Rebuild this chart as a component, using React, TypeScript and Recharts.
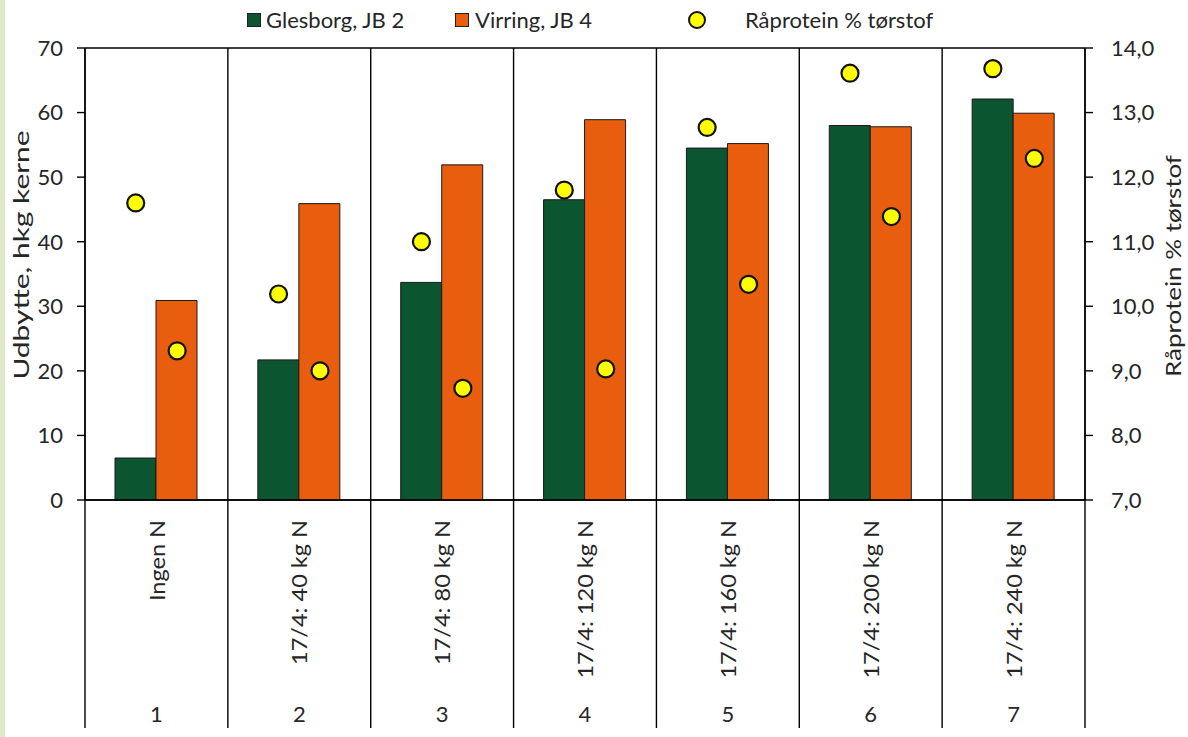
import { ComposedChart, Bar, Scatter, XAxis, YAxis, CartesianGrid } from "recharts";

const categories = [
  "Ingen N",
  "17/4: 40 kg N",
  "17/4: 80 kg N",
  "17/4: 120 kg N",
  "17/4: 160 kg N",
  "17/4: 200 kg N",
  "17/4: 240 kg N",
];
const treatmentNos = ["1", "2", "3", "4", "5", "6", "7"];
const glesborgYield = [6.5, 21.7, 33.7, 46.5, 54.5, 58.0, 62.1];
const virringYield = [30.9, 45.9, 51.9, 58.9, 55.2, 57.8, 59.9];
const glesborgProtein = [11.6, 10.19, 11.0, 11.8, 12.77, 13.61, 13.68];
const virringProtein = [9.31, 9.0, 8.73, 9.03, 10.34, 11.39, 12.29];
const yieldTicks = [0, 10, 20, 30, 40, 50, 60, 70];
const proteinTicks = [7, 8, 9, 10, 11, 12, 13, 14];

const W = 1188;
const H = 737;
const PLOT_LEFT = 85;
const PLOT_RIGHT = 1085;
const PLOT_TOP = 48;
const PLOT_BOTTOM = 500;
const BAND = (PLOT_RIGHT - PLOT_LEFT) / categories.length;
const CAT_GAP = 0.21;
const BAR_W = (BAND * (1 - 2 * CAT_GAP)) / 2;

const GREEN = "#0b5530";
const ORANGE = "#e85d0e";
const YELLOW = "#ffff00";
const FONT = "Lato, 'Open Sans', sans-serif";
const TEXT = "#262626";
const FS = 22;

const data = categories.map((name, i) => ({
  name,
  no: treatmentNos[i],
  glesborg: glesborgYield[i],
  virring: virringYield[i],
  protG: glesborgProtein[i],
  protV: virringProtein[i],
}));

// vertical text, stretched a little along its length like the original
function VText(props: { x: number; y: number; anchor: string; stretch: number; size?: number; children: any }) {
  const { x, y, anchor, stretch, size = FS, children } = props;
  return (
    <text
      x={0}
      y={0}
      transform={`translate(${x}, ${y}) rotate(-90) scale(${stretch}, 1)`}
      textAnchor={anchor}
      dominantBaseline="central"
      fontSize={size}
      fontFamily={FONT}
      fill={TEXT}
    >
      {children}
    </text>
  );
}

function CategoryTick(props: any) {
  const { x, y, payload, index } = props;
  const left = x - BAND / 2;
  const right = x + BAND / 2;
  const last = index === categories.length - 1;
  return (
    <g>
      <line x1={left} y1={PLOT_TOP} x2={left} y2={728} stroke="#000" strokeWidth={1.4} />
      {last && <line x1={right} y1={PLOT_TOP} x2={right} y2={728} stroke="#000" strokeWidth={1.4} />}
      <VText x={x} y={y + 20} anchor="end" stretch={1.07}>
        {payload.value}
      </VText>
      <text x={x} y={213 + y} textAnchor="middle" dominantBaseline="central" fontSize={FS} fontFamily={FONT} fill={TEXT}>
        {data[index].no}
      </text>
    </g>
  );
}

const dot = (dx: number) => (props: any) => (
  <circle cx={props.cx + dx} cy={props.cy} r={8.5} fill={YELLOW} stroke="#111" strokeWidth={2.2} />
);

function LegendBox() {
  const item = {
    position: "absolute" as const,
    top: 6,
    fontSize: FS,
    fontFamily: FONT,
    color: TEXT,
    lineHeight: "28px",
    display: "flex",
    alignItems: "center",
    whiteSpace: "nowrap" as const,
  };
  return (
    <>
      <div style={{ ...item, left: 247 }}>
        <span style={{ width: 12, height: 12, background: GREEN, border: "1px solid #222", marginRight: 5 }} />
        Glesborg, JB 2
      </div>
      <div style={{ ...item, left: 455 }}>
        <span style={{ width: 12, height: 12, background: ORANGE, border: "1px solid #222", marginRight: 6 }} />
        Virring, JB 4
      </div>
      <div style={{ ...item, left: 688 }}>
        <span
          style={{ width: 14, height: 14, borderRadius: "50%", background: YELLOW, border: "2px solid #111", marginRight: 39 }}
        />
        Råprotein % tørstof
      </div>
    </>
  );
}

export default function App() {
  return (
    <div style={{ position: "absolute", left: 0, top: 0, width: W, height: H, background: "#fff" }}>
      <div style={{ position: "absolute", left: 0, top: 0, width: 5, height: H, background: "#dfe8c9" }} />
      <LegendBox />
      <ComposedChart
        width={W}
        height={H}
        data={data}
        margin={{ top: PLOT_TOP, right: 0, bottom: 0, left: 0 }}
        barCategoryGap={`${CAT_GAP * 100}%`}
        barGap={0}
      >
        <CartesianGrid vertical={false} stroke="#000" strokeWidth={1.4} />
        <XAxis
          dataKey="name"
          height={H - PLOT_BOTTOM}
          tick={<CategoryTick />}
          tickLine={false}
          tickSize={0}
          tickMargin={0}
          axisLine={{ stroke: "#000", strokeWidth: 1.4 }}
          interval={0}
        />
        <YAxis
          yAxisId="left"
          orientation="left"
          width={PLOT_LEFT}
          domain={[0, 70]}
          ticks={yieldTicks}
          interval={0}
          tickSize={8}
          tickMargin={14}
          tick={{ fontSize: FS, fontFamily: FONT, fill: TEXT }}
          tickLine={{ stroke: "#000", strokeWidth: 1.4 }}
          axisLine={{ stroke: "#000", strokeWidth: 1.4 }}
          label={{
            content: ({ viewBox }: any) => (
              <VText x={viewBox.x + 21} y={viewBox.y + viewBox.height / 2 - 19} anchor="middle" stretch={1.36}>
                Udbytte, hkg kerne
              </VText>
            ),
          }}
        />
        <YAxis
          yAxisId="right"
          orientation="right"
          width={W - PLOT_RIGHT}
          domain={[7, 14]}
          ticks={proteinTicks}
          interval={0}
          tickSize={8}
          tickMargin={18}
          tickFormatter={(v: number) => v.toFixed(1).replace(".", ",")}
          tick={{ fontSize: FS, fontFamily: FONT, fill: TEXT }}
          tickLine={{ stroke: "#000", strokeWidth: 1.4 }}
          axisLine={{ stroke: "#000", strokeWidth: 1.4 }}
          label={{
            content: ({ viewBox }: any) => (
              <VText x={viewBox.x + 87} y={viewBox.y + viewBox.height / 2 - 8} anchor="middle" stretch={1.18}>
                Råprotein % tørstof
              </VText>
            ),
          }}
        />
        <Bar yAxisId="left" dataKey="glesborg" fill={GREEN} stroke="#1a1a1a" strokeWidth={1} isAnimationActive={false} />
        <Bar yAxisId="left" dataKey="virring" fill={ORANGE} stroke="#1a1a1a" strokeWidth={1} isAnimationActive={false} />
        <Scatter yAxisId="right" dataKey="protG" shape={dot(-BAR_W / 2)} isAnimationActive={false} />
        <Scatter yAxisId="right" dataKey="protV" shape={dot(BAR_W / 2)} isAnimationActive={false} />
      </ComposedChart>
    </div>
  );
}
